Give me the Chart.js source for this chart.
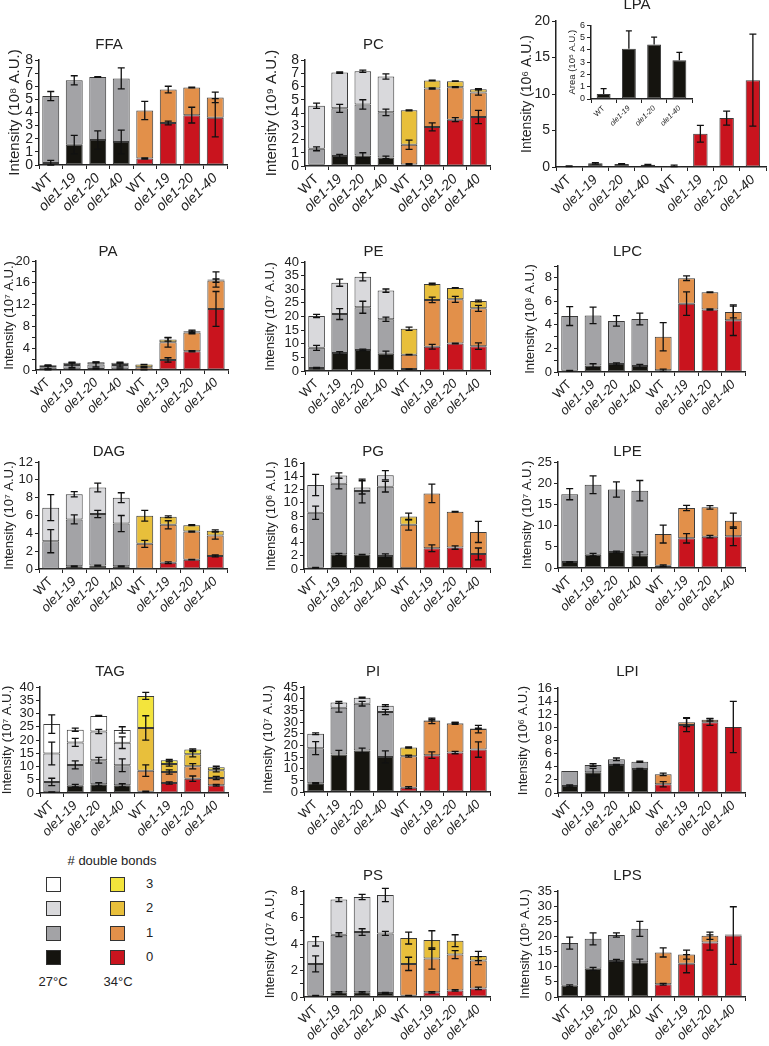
<!DOCTYPE html>
<html>
<head>
<meta charset="utf-8">
<script src="https://cdn.jsdelivr.net/npm/chart.js"></script>
<style>
html, body { margin: 0; padding: 0; background: #fff; overflow: hidden; }
#fig { position: relative; width: 769px; height: 1046px; }
#fig canvas { position: absolute; }
.lg { position: absolute; font-family: "Liberation Sans", Arial, sans-serif; font-size: 13px; color: #222; white-space: nowrap; }
.sw { position: absolute; width: 15px; height: 15px; border: 1px solid #333; box-sizing: border-box; }
</style>
</head>
<body>
<div id="fig"></div>
<script>
// 株名 (27°C x4, 34°C x4)
const strains = ['WT', 'ole1-19', 'ole1-20', 'ole1-40', 'WT', 'ole1-19', 'ole1-20', 'ole1-40'];
const insetStrains = ['WT', 'ole1-19', 'ole1-20', 'ole1-40'];
const bondLabels = ['0', '1', '2', '3'];

// 各脂質: 二重結合数ごとの積み上げ値 [0, 1, 2, 3] と誤差
const ffaValues = [
    [0.15, 1.55, 1.9, 1.75, 0.5, 3.2, 3.8, 3.6],
    [5.1, 4.9, 4.8, 4.85, 3.65, 2.55, 2.1, 1.55]
];
const ffaErrors = [
    [0.2, 0.7, 0.7, 0.9, 0.05, 0.15, 0.6, 1.45],
    [0.35, 0.35, 0.03, 0.8, 0.7, 0.25, 0.03, 0.4]
];
const pcValues = [
    [0.1, 0.75, 0.8, 0.65, 0.12, 2.95, 3.5, 3.7],
    [1.2, 3.6, 3.85, 3.4, 1.48, 2.9, 2.45, 1.85],
    [3.25, 2.7, 2.5, 2.7, 2.6, 0.6, 0.45, 0.25]
];
const pcErrors = [
    [0, 0.12, 0.2, 0.1, 0.05, 0.3, 0.15, 0.5],
    [0.15, 0.3, 0.35, 0.25, 0.35, 0.05, 0.03, 0.2],
    [0.2, 0.05, 0.08, 0.2, 0.03, 0.02, 0.02, 0.03]
];
const lpaValues = [
    [0.1, 0.5, 0.4, 0.3, 0.15, 4.55, 6.7, 11.9]
];
const lpaErrors = [
    [0.05, 0.1, 0.05, 0.05, 0.1, 1.15, 0.95, 6.3]
];
const lpaInsetValues = [0.4, 4.1, 4.45, 3.15];
const lpaInsetErrors = [0.45, 1.45, 0.6, 0.65];
const paValues = [
    [0.1, 0.15, 0.2, 0.15, 0.05, 1.85, 3.45, 11.2],
    [0.4, 0.75, 0.8, 0.75, 0.45, 3.25, 3.45, 5.2],
    [0.35, 0.45, 0.4, 0.45, 0.5, 0.5, 0.2, 0.2]
];
const paErrors = [
    [0.05, 0.05, 0.05, 0.05, 0.02, 0.4, 0.1, 3.2],
    [0.3, 0.4, 0.45, 0.35, 0.1, 0.9, 0.25, 0.3],
    [0.1, 0.1, 0.1, 0.1, 0.05, 0.3, 0.2, 1.4]
];
const peValues = [
    [1.1, 6.6, 7.75, 6.3, 0.7, 8.9, 10.1, 9.1],
    [7.4, 14.3, 15.65, 12.7, 5.3, 17.2, 16.2, 13.9],
    [11.7, 11.5, 11.2, 10.5, 9.5, 5.8, 4.2, 2.7]
];
const peErrors = [
    [0.2, 0.5, 0.3, 1.0, 0.1, 0.9, 0.1, 1.2],
    [0.9, 2.0, 2.2, 0.8, 0.1, 1.0, 1.1, 1.1],
    [0.6, 1.3, 1.5, 0.6, 0.6, 0.3, 0.1, 0.3]
];
const lpcValues = [
    [0.1, 0.55, 0.68, 0.5, 0.15, 5.8, 5.3, 4.4],
    [4.65, 4.25, 3.66, 4.0, 2.85, 2.17, 1.48, 0.7]
];
const lpcErrors = [
    [0.03, 0.15, 0.1, 0.15, 0.1, 1.0, 0.05, 1.3],
    [0.8, 0.7, 0.45, 0.5, 1.2, 0.2, 0.03, 0.5]
];
const dagValues = [
    [0.02, 0.3, 0.38, 0.3, 0.02, 0.7, 1.05, 1.47],
    [3.1, 5.26, 5.79, 4.8, 2.8, 4.26, 3.15, 2.29],
    [3.76, 2.82, 2.97, 2.9, 3.16, 0.9, 0.72, 0.52]
];
const dagErrors = [
    [0, 0.05, 0.05, 0.05, 0, 0.1, 0.03, 0.1],
    [1.3, 0.5, 0.4, 0.9, 0.4, 0.45, 0.05, 0.4],
    [1.45, 0.3, 0.5, 0.55, 0.6, 0.1, 0.05, 0.1]
];
const pgValues = [
    [0.2, 2.22, 2.17, 1.97, 0.1, 3.13, 3.23, 2.27],
    [8.28, 10.66, 9.6, 10.45, 6.57, 8.28, 5.41, 3.33],
    [4.19, 1.22, 0.55, 1.72, 1.26, 0, 0, 0]
];
const pgErrors = [
    [0.05, 0.15, 0.05, 0.3, 0, 0.5, 0.25, 0.9],
    [1.0, 0.8, 1.8, 0.8, 0.8, 1.4, 0.05, 1.6],
    [1.6, 0.4, 1.0, 0.7, 0.5, 0, 0, 0]
];
const lpeValues = [
    [1.42, 3.14, 3.77, 3.0, 0.55, 7.0, 7.39, 7.47],
    [15.98, 16.5, 14.73, 15.24, 7.45, 7.15, 6.91, 3.69]
];
const lpeErrors = [
    [0.1, 0.3, 0.2, 0.8, 0.2, 1.1, 0.3, 2.2],
    [1.3, 2.1, 1.8, 2.4, 2.1, 0.6, 0.4, 1.8]
];
const tagValues = [
    [0.3, 2.77, 3.27, 2.9, 0.5, 3.78, 5.42, 2.9],
    [3.86, 7.83, 9.07, 7.55, 7.94, 4.15, 4.66, 2.77],
    [10.74, 8.5, 10.86, 8.55, 16.12, 3.03, 4.52, 2.89],
    [11.1, 4.8, 5.9, 4.8, 12.09, 1.38, 1.77, 1.14]
];
const tagErrors = [
    [0.1, 0.5, 0.6, 0.6, 0.2, 0.4, 1.0, 0.3],
    [1.4, 1.5, 1.1, 2.4, 2.2, 0.8, 1.0, 0.6],
    [4.3, 1.5, 0.8, 2.2, 4.6, 0.8, 1.0, 0.6],
    [3.5, 0.6, 0.2, 1.2, 1.3, 0.3, 0.3, 0.4]
];
const piValues = [
    [3.73, 16.06, 17.8, 15.05, 1.86, 15.77, 16.9, 18.2],
    [15.07, 20.04, 20.05, 19.25, 13.48, 14.73, 12.5, 8.75],
    [6.15, 2.3, 2.55, 2.7, 3.73, 0.3, 0.2, 0.25]
];
const piErrors = [
    [0.3, 1.8, 1.0, 2.6, 0.4, 1.4, 0.5, 3.3],
    [2.8, 1.9, 1.0, 1.1, 0.4, 1.2, 0.4, 1.6],
    [0.4, 0.4, 0.2, 0.4, 0.3, 0.3, 0.2, 0.2]
];
const lpiValues = [
    [1.07, 3.15, 4.26, 3.65, 1.32, 10.36, 10.8, 10.05],
    [2.28, 1.11, 0.87, 1.12, 1.52, 0.44, 0.37, 0]
];
const lpiErrors = [
    [0.15, 0.6, 0.1, 0.1, 0.4, 1.0, 0.5, 3.9],
    [0, 0.2, 0.2, 0.1, 0.2, 0.7, 0.2, 0]
];
const psValues = [
    [0.1, 0.35, 0.35, 0.3, 0.1, 0.35, 0.5, 0.65],
    [2.4, 4.35, 4.55, 4.5, 2.4, 2.55, 2.7, 2.1],
    [1.7, 2.65, 2.65, 2.9, 1.95, 1.4, 1.05, 0.35]
];
const psErrors = [
    [0.02, 0.05, 0.05, 0.05, 0.02, 0.05, 0.05, 0.1],
    [0.6, 0.15, 0.25, 0.15, 0.5, 0.8, 0.3, 0.3],
    [0.35, 0.15, 0.2, 0.5, 0.45, 0.7, 0.45, 0.35]
];
const lpsValues = [
    [3.7, 9.3, 11.9, 11.5, 4.2, 11.0, 18.0, 20.3],
    [14.1, 9.9, 8.6, 11.0, 10.5, 3.0, 2.2, 0.3]
];
const lpsErrors = [
    [0.3, 0.5, 0.5, 1.0, 0.3, 3.0, 2.5, 9.5],
    [2.0, 2.0, 0.7, 2.5, 1.5, 1.5, 1.2, 0]
];

// 色 (二重結合数 0..3)
const colors27 = ['#15140f', '#a3a3a6', '#d9d9dc', '#ffffff'];
const colors34 = ['#c9141e', '#e2904a', '#e8bf3b', '#f3e43c'];
const ink = '#222';
const family = '"Liberation Sans", Arial, sans-serif';

// パネル一覧 (データ, 軸の最大値, 目盛り)
const panels = [
    { name: 'FFA', exp: '⁸', values: ffaValues, errors: ffaErrors, max: 8, step: 1, every: 1 },
    { name: 'PC', exp: '⁹', values: pcValues, errors: pcErrors, max: 8, step: 1, every: 1 },
    { name: 'LPA', exp: '⁶', values: lpaValues, errors: lpaErrors, max: 20, step: 5, every: 5 },
    { name: 'PA', exp: '⁷', values: paValues, errors: paErrors, max: 20, step: 2, every: 4 },
    { name: 'PE', exp: '⁷', values: peValues, errors: peErrors, max: 40, step: 5, every: 5 },
    { name: 'LPC', exp: '⁸', values: lpcValues, errors: lpcErrors, max: 9, step: 1, every: 2 },
    { name: 'DAG', exp: '⁷', values: dagValues, errors: dagErrors, max: 12, step: 2, every: 2 },
    { name: 'PG', exp: '⁶', values: pgValues, errors: pgErrors, max: 16, step: 2, every: 2 },
    { name: 'LPE', exp: '⁷', values: lpeValues, errors: lpeErrors, max: 25, step: 5, every: 5 },
    { name: 'TAG', exp: '⁷', values: tagValues, errors: tagErrors, max: 40, step: 5, every: 5 },
    { name: 'PI', exp: '⁷', values: piValues, errors: piErrors, max: 45, step: 5, every: 5 },
    { name: 'LPI', exp: '⁶', values: lpiValues, errors: lpiErrors, max: 16, step: 2, every: 2 },
    { name: 'PS', exp: '⁷', values: psValues, errors: psErrors, max: 8, step: 1, every: 2 },
    { name: 'LPS', exp: '⁵', values: lpsValues, errors: lpsErrors, max: 35, step: 5, every: 5 }
];

// 配置: プロット枠 [左, 上, 右, 下], タイトル中心 [x, y], 縦軸タイトル x, 文字サイズ
const layout = {
    FFA: { box: [39, 60, 227, 165], title: [133, 45], yTitleX: 15, tick: 14, yTitle: 15, xs: 14 },
    PC:  { box: [305, 60, 490, 166], title: [398, 45], yTitleX: 272, tick: 14, yTitle: 15, xs: 14 },
    LPA: { box: [556, 21, 766, 167], title: [657, 5], yTitleX: 527, tick: 14, yTitle: 14, xs: 13.5, bar: 0.55 },
    PA:  { box: [36, 261, 228, 370], title: [133, 252], yTitleX: 9 },
    PE:  { box: [305, 262, 490, 371], title: [397, 252], yTitleX: 270 },
    LPC: { box: [558, 266, 745, 372], title: [650, 252], yTitleX: 530 },
    DAG: { box: [39, 462, 227, 569], title: [133, 452], yTitleX: 9 },
    PG:  { box: [304, 463, 490, 569], title: [395, 452], yTitleX: 271 },
    LPE: { box: [558, 462, 745, 568], title: [650, 452], yTitleX: 527 },
    TAG: { box: [40, 687, 228, 793], title: [123, 672], yTitleX: 7 },
    PI:  { box: [304, 687, 490, 792], title: [397, 672], yTitleX: 268 },
    LPI: { box: [558, 688, 745, 793], title: [649, 672], yTitleX: 523 },
    PS:  { box: [304, 891, 490, 997], title: [397, 876], yTitleX: 270 },
    LPS: { box: [558, 891, 745, 997], title: [650, 876], yTitleX: 525 }
};
const Y_W = 48;   // 縦軸の幅
const X_H = 54;   // 横軸ラベルの高さ

// 誤差棒を描くプラグイン
const errorBars = {
    id: 'errorBars',
    afterDatasetsDraw(chart) {
        const ctx = chart.ctx;
        const y = chart.scales.y;
        ctx.save();
        ctx.strokeStyle = '#111';
        ctx.lineWidth = 1.3;
        chart.data.datasets.forEach((ds, di) => {
            const meta = chart.getDatasetMeta(di);
            meta.data.forEach((bar, i) => {
                const e = ds.errors ? ds.errors[i] : 0;
                if (!e || !ds.data[i]) return;
                let top = 0;
                for (let k = 0; k <= di; k++) top += chart.data.datasets[k].data[i];
                const hi = y.getPixelForValue(top + e);
                const lo = ds.oneSided ? bar.y : y.getPixelForValue(Math.max(top - e, 0));
                const cap = ds.capWidth || 3.5;
                ctx.beginPath();
                ctx.moveTo(bar.x, hi); ctx.lineTo(bar.x, lo);
                ctx.moveTo(bar.x - cap, hi); ctx.lineTo(bar.x + cap, hi);
                if (!ds.oneSided) { ctx.moveTo(bar.x - cap, lo); ctx.lineTo(bar.x + cap, lo); }
                ctx.stroke();
            });
        });
        ctx.restore();
    }
};

function makeDatasets(values, errors, pct) {
    return values.map((seg, k) => ({
        label: bondLabels[k],
        data: seg,
        errors: errors[k],
        backgroundColor: strains.map((s, i) => i < 4 ? colors27[k] : colors34[k]),
        borderColor: '#3a3a3a',
        borderWidth: c => c.raw > 0 ? 1 : 0,
        borderSkipped: false,
        barPercentage: pct,
        categoryPercentage: 1
    }));
}

function axisX(labels, size, h) {
    return {
        stacked: true,
        grid: { display: true, drawOnChartArea: false, drawTicks: true, tickLength: 4, color: ink, offset: true },
        border: { display: true, color: ink, width: 1.5 },
        ticks: {
            autoSkip: false, maxRotation: 45, minRotation: 45, padding: 1, color: ink,
            font: c => ({ family, size, style: labels[c.index] === 'WT' ? 'normal' : 'italic' })
        },
        afterFit: s => { s.height = h; }
    };
}

function axisY(max, step, every, tickSize, titleText, titleSize, titlePad, w) {
    return {
        stacked: true, min: 0, max: max,
        grid: { display: true, drawOnChartArea: false, drawTicks: true, tickLength: 4, color: ink },
        border: { display: true, color: ink, width: 1.5 },
        ticks: {
            stepSize: step, autoSkip: false, padding: 2, color: ink,
            font: { family, size: tickSize },
            callback: v => (Math.round(v * 100) % Math.round(every * 100) === 0) ? v : ''
        },
        title: {
            display: true, text: titleText, color: ink,
            font: { family, size: titleSize }, padding: { top: titlePad, bottom: 0 }
        },
        afterFit: s => { s.width = w; }
    };
}

const fig = document.getElementById('fig');

function addCanvas(left, top, w, h, z) {
    const c = document.createElement('canvas');
    c.width = w; c.height = h;
    c.style.left = left + 'px'; c.style.top = top + 'px';
    c.style.width = w + 'px'; c.style.height = h + 'px';
    if (z) c.style.zIndex = z;
    fig.appendChild(c);
    return c;
}

panels.forEach(p => {
    const lay = layout[p.name];
    const [L, T, R, B] = lay.box;
    const [tx, ty] = lay.title;
    const tickSize = lay.tick || 13;
    const yTitleSize = lay.yTitle || 13;
    const xs = lay.xs || 13;
    const left = L - Y_W;
    const top = ty - 9;
    const titleGap = Math.max(0, T - ty - 9);
    const padR = Math.max(0, 2 * tx - left - R);
    const width = R + padR - left;
    const height = B + X_H - top;
    const yTitlePad = Math.max(0, lay.yTitleX - left - yTitleSize * 0.6);
    const canvas = addCanvas(left, top, width, height);

    new Chart(canvas.getContext('2d'), {
        type: 'bar',
        data: { labels: strains, datasets: makeDatasets(p.values, p.errors, lay.bar || 0.72) },
        options: {
            responsive: false, animation: false, devicePixelRatio: 1,
            layout: { padding: { left: 0, right: padR, top: 0, bottom: 0 } },
            plugins: {
                legend: { display: false },
                tooltip: { enabled: false },
                title: {
                    display: true, text: p.name, color: ink,
                    font: { family, size: 15, weight: 'normal' },
                    padding: { top: 0, bottom: titleGap }
                }
            },
            scales: {
                x: axisX(strains, xs, X_H),
                y: axisY(p.max, p.step, p.every, tickSize, 'Intensity (10' + p.exp + ' A.U.)', yTitleSize, yTitlePad, Y_W)
            }
        },
        plugins: [errorBars]
    });
});

// LPA の挿入図 (27°C, Area)
(function drawInset() {
    const [L, T, R, B] = [591, 24, 692, 99];
    const w0 = 30, h0 = 30;
    const left = L - w0, top = T - 6;
    const canvas = addCanvas(left, top, R + 4 - left, B + h0 - top, 5);
    new Chart(canvas.getContext('2d'), {
        type: 'bar',
        data: {
            labels: insetStrains,
            datasets: [{
                data: lpaInsetValues, errors: lpaInsetErrors, oneSided: true, capWidth: 3,
                backgroundColor: colors27[0], borderColor: '#3a3a3a', borderWidth: 1,
                borderSkipped: false, barPercentage: 0.55, categoryPercentage: 1
            }]
        },
        options: {
            responsive: false, animation: false, devicePixelRatio: 1,
            layout: { padding: { left: 0, right: 4, top: 6, bottom: 0 } },
            plugins: { legend: { display: false }, tooltip: { enabled: false } },
            scales: {
                x: axisX(insetStrains, 7.5, h0),
                y: axisY(6, 1, 1, 9, 'Area (10⁵ A.U.)', 9.5, 572 - left - 5.7, w0)
            }
        },
        plugins: [errorBars]
    });
})();

// 凡例 (HTML)
function addText(text, x, y, center) {
    const d = document.createElement('div');
    d.className = 'lg';
    d.textContent = text;
    d.style.left = x + 'px';
    d.style.top = y + 'px';
    if (center) d.style.transform = 'translateX(-50%)';
    fig.appendChild(d);
}
function addSwatch(x, y, color) {
    const d = document.createElement('div');
    d.className = 'sw';
    d.style.left = x + 'px';
    d.style.top = y + 'px';
    d.style.background = color;
    fig.appendChild(d);
}
addText('# double bonds', 112, 853, true);
const legendRows = [3, 2, 1, 0];
legendRows.forEach((k, r) => {
    const y = 877 + r * 24.3;
    addSwatch(46, y, colors27[k]);
    addSwatch(110, y, colors34[k]);
    addText(bondLabels[k], 146, y - 1);
});
addText('27°C', 53, 974, true);
addText('34°C', 118, 974, true);
</script>
</body>
</html>
